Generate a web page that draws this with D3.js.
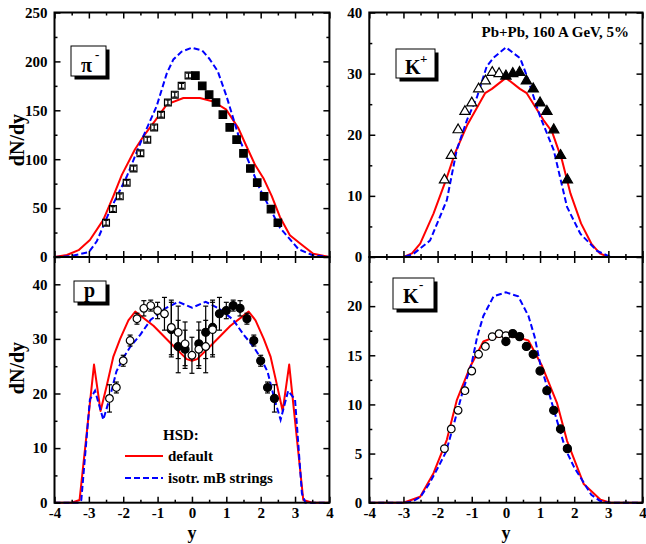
<!DOCTYPE html>
<html><head><meta charset="utf-8">
<script src="https://cdn.jsdelivr.net/npm/d3@7"></script>
<style>
body{margin:0;background:#fff}
text{font-family:"Liberation Serif","Times New Roman",serif;font-weight:bold;fill:#000}
</style>
</head><body>
<svg id="c" width="646" height="544"></svg>
<script>
// ---------- data ----------
const xMajor = [-4,-3,-2,-1,0,1,2,3,4];
const xMinor = [-3.5,-2.5,-1.5,-0.5,0.5,1.5,2.5,3.5];

// pi-
const piRedY = [-4,-3.64,-3.3,-2.97,-2.58,-2.29,-2.04,-1.66,-1.42,-1.08,-0.73,-0.25,0.23,0.62,1.0,1.35,1.59,1.84,2.08,2.32,2.56,2.85,3.14,3.53,4];
const piRedV = [0,2,7,17.4,38,62,84,110,123,139,156,162.6,162.6,159,150.6,131.8,113,94,80.6,62.5,41,22.2,14,3.4,0];
const piBlueY = [-4,-3.5,-3,-2.77,-2.38,-1.9,-1.46,-1.03,-0.73,-0.54,-0.3,0,0.3,0.5,0.75,1.0,1.39,1.97,2.56,3.1,3.5,4];
const piBlueV = [0,1,5,16,48,82,120,154,188,202,210,214,211,203,190,165,120,70,30,8,2,0];
const piOpenY = [-2.5,-2.3,-2.1,-1.9,-1.7,-1.5,-1.3,-1.1,-0.9,-0.7,-0.5,-0.3,-0.1];
const piOpenV = [35,49,62,76,90.5,106,120,132.5,145.5,158,166,175,185.5];
const piOpenE = [2.5,2.5,2.5,2.5,2.5,2.5,2.5,2.5,2.5,2.5,2.5,2.5,2.5];
const piFillY = [0.1,0.3,0.5,0.7,0.9,1.1,1.3,1.5,1.7,1.9,2.1,2.3,2.5];
const piFillV = [185.5,175,166,158,145.5,132.5,120,106,90.5,76,62,49,35];
const piTicks = [0,50,100,150,200,250];
const piMinor = [25,75,125,175,225];

// K+
const kpRedY = [-4,-3,-2.75,-2.51,-2.12,-1.73,-1.49,-1.14,-0.61,-0.41,0,0.41,0.61,1.1,1.35,1.64,1.89,2.2,2.5,2.75,3,4];
const kpRedV = [0,0,0.6,2.2,7.1,13,17,21.5,26.8,27.5,29.3,27.5,26.8,22.4,20.5,15.9,10.4,5.5,2.2,0.6,0,0];
const kpBlueY = [-4,-3,-2.71,-2.22,-1.73,-1.44,-1.14,-0.85,-0.56,-0.36,0,0.42,0.62,1.0,1.4,1.79,2.18,2.67,3.06,4];
const kpBlueV = [0,0,0.5,2.7,9.3,17.5,22.4,26.1,31.2,32.6,34.3,32.5,29.5,23,17.5,8.2,3.8,1,0,0];
const kpOpenY = [-1.8,-1.6,-1.4,-1.2,-1.0,-0.8,-0.6,-0.4,-0.2];
const kpOpenV = [12.6,16.6,20.8,23.8,25.2,27.5,28.8,30.2,30];
const kpFillY = [0,0.2,0.4,0.6,0.8,1.0,1.2,1.4,1.6,1.8];
const kpFillV = [29.6,30,30.2,28.8,27.5,25.2,23.8,20.8,16.6,12.6];
const kpTicks = [0,10,20,30,40];
const kpMinor = [5,15,25,35];

// p
const pRedY = [-4,-3.5,-3.27,-2.85,-2.66,-2.48,-2.29,-2.09,-1.85,-1.65,-1.12,-0.54,-0.15,0,0.15,0.54,1.12,1.65,1.85,2.09,2.29,2.48,2.64,2.83,3.24,3.5,4];
const pRedV = [0,0,0.5,25.3,16.8,21.4,26.7,30,33.4,35,32.4,28.7,26.3,26,26.3,28.7,32.4,35,33.4,30,26.7,21.4,16.8,25.3,0.5,0,0];
const pBlueY = [-4,-3.3,-3.22,-2.97,-2.82,-2.58,-2.4,-2.2,-2.0,-1.8,-1.5,-1.2,-0.8,-0.4,0,0.4,0.8,1.2,1.5,1.8,2.0,2.2,2.4,2.58,2.8,3.0,3.2,3.3,4];
const pBlueV = [0,0,0.5,18.9,20.5,15.2,19,24,26.5,28.5,30.8,33.5,35.5,36.8,35.7,36.8,35.5,33.5,30.8,28.5,26.5,24,19,15.2,20.5,18.9,1.7,0,0];
const pOpenY = [-2.4,-2.2,-2.0,-1.8,-1.6,-1.4,-1.2,-1.0,-0.8,-0.6,-0.4,-0.2,0,0.2,0.4,0.6];
const pOpenV = [19.1,21.1,26,29.7,33.7,35.6,36.1,35.2,34.6,32.1,31.2,29.1,27,28.1,28.6,31.7];
const pOpenE = [2.5,1,1,1,1,1.4,1,1.5,3,5,4.8,4,3.3,3.5,4.8,5];
const pFillY = [-0.6,-0.4,-0.2,0.2,0.4,0.6,0.8,1.0,1.2,1.4,1.6,1.8,2.0,2.2,2.4];
const pFillV = [31.7,28.6,28.1,29.1,31.2,32.1,34.6,35.2,36.1,35.6,33.7,29.7,26,21.1,19.1];
const pFillE = [5,4.8,3.5,4,4.8,5,3,1.5,1,1.4,1,1,1,1,2.5];
const pTicks = [0,10,20,30,40];
const pMinor = [5,15,25,35];

// K-
const kmRedY = [-4,-3,-2.51,-2.12,-1.73,-1.44,-1.05,-0.66,-0.37,0,0.37,0.66,1.06,1.5,1.79,2.28,2.77,3.06,4];
const kmRedV = [0,0,0.6,3,6.4,10.4,13.8,16.4,16.8,17.0,16.8,16.5,13.9,10.1,6.3,1.9,0.3,0,0];
const kmBlueY = [-4,-3,-2.75,-2.5,-2.25,-2,-1.75,-1.5,-1.25,-1,-0.84,-0.66,-0.36,0,0.36,0.66,0.84,1,1.25,1.5,1.75,2,2.25,2.5,2.75,3,4];
const kmBlueV = [0,0,0.1,0.6,1.9,3.5,5.2,8.3,11.5,14.2,16.9,19,21,21.4,21,19,16.9,14.2,11.3,8.3,5.4,3.6,2.2,0.8,0.2,0,0];
const kmOpenY = [-1.8,-1.6,-1.4,-1.2,-1.0,-0.8,-0.6,-0.4,-0.2,0];
const kmOpenV = [5.5,7.5,9.4,11.4,13.4,15.1,15.9,16.9,17.2,17.0];
const kmFillY = [0,0.2,0.4,0.6,0.8,1.0,1.2,1.4,1.6,1.8];
const kmFillV = [16.4,17.2,16.9,15.9,15.1,13.4,11.4,9.4,7.5,5.5];
const kmTicks = [0,5,10,15,20];
const kmMinor = [2.5,7.5,12.5,17.5,22.5];

const legendLabels = ["default", "isotr. mB strings"];
const titleText = "Pb+Pb, 160 A GeV, 5%";

// ---------- drawing ----------
const svg = d3.select("#c");
const RED = "#ff0000", BLUE = "#0000ff";

function zip(a, b){ return a.map((v,i)=>[v,b[i]]); }

function panel(o){
  const x = d3.scaleLinear().domain([-4,4]).range([o.l,o.r]);
  const y = d3.scaleLinear().domain(o.yd).range([o.b,o.t]);
  const g = svg.append("g");
  const line = d3.line().x(d=>x(d[0])).y(d=>y(d[1]));

  g.append("path").attr("d", line(zip(o.redY,o.redV))).attr("fill","none")
    .attr("stroke",RED).attr("stroke-width",2).attr("stroke-linejoin","round");
  g.append("path").attr("d", line(zip(o.blueY,o.blueV))).attr("fill","none")
    .attr("stroke",BLUE).attr("stroke-width",2).attr("stroke-dasharray","6,3");

  const style = s => { s.select(".domain").remove();
    s.selectAll(".tick line").attr("stroke","#000").attr("stroke-width",1.5);
    s.selectAll("text").attr("font-family",null).attr("font-size",15).attr("fill","#000");
    s.attr("font-family",null).attr("font-size",null); };
  const fmt = d => String(d);
  g.append("g").attr("transform",`translate(0,${o.b})`)
    .call(d3.axisBottom(x).tickValues(xMajor).tickSizeInner(-6).tickSizeOuter(0).tickPadding(5).tickFormat(o.xl?fmt:"")).call(style);
  g.append("g").attr("transform",`translate(0,${o.b})`)
    .call(d3.axisBottom(x).tickValues(xMinor).tickSizeInner(-3).tickSizeOuter(0).tickFormat("")).call(style);
  g.append("g").attr("transform",`translate(0,${o.t})`)
    .call(d3.axisTop(x).tickValues(xMajor).tickSizeInner(-6).tickSizeOuter(0).tickFormat("")).call(style);
  g.append("g").attr("transform",`translate(0,${o.t})`)
    .call(d3.axisTop(x).tickValues(xMinor).tickSizeInner(-3).tickSizeOuter(0).tickFormat("")).call(style);
  g.append("g").attr("transform",`translate(${o.l},0)`)
    .call(d3.axisLeft(y).tickValues(o.yt).tickSizeInner(-6).tickSizeOuter(0).tickPadding(7).tickFormat(fmt)).call(style);
  g.append("g").attr("transform",`translate(${o.l},0)`)
    .call(d3.axisLeft(y).tickValues(o.ym).tickSizeInner(-3).tickSizeOuter(0).tickFormat("")).call(style);
  g.append("g").attr("transform",`translate(${o.r},0)`)
    .call(d3.axisRight(y).tickValues(o.yt).tickSizeInner(-6).tickSizeOuter(0).tickFormat("")).call(style);
  g.append("g").attr("transform",`translate(${o.r},0)`)
    .call(d3.axisRight(y).tickValues(o.ym).tickSizeInner(-3).tickSizeOuter(0).tickFormat("")).call(style);

  g.append("rect").attr("x",o.l).attr("y",o.t).attr("width",o.r-o.l).attr("height",o.b-o.t)
    .attr("fill","none").attr("stroke","#000").attr("stroke-width",2);

  return {g,x,y};
}

function errbars(P, ys, vs, es){
  const d = zip(ys,vs).map((p,i)=>[p[0],p[1],es[i]]);
  const eg = P.g.append("g").attr("stroke","#000").attr("stroke-width",1.2);
  d.forEach(p=>{
    const cx = P.x(p[0]), y1 = P.y(p[1]-p[2]), y2 = P.y(p[1]+p[2]);
    eg.append("line").attr("x1",cx).attr("x2",cx).attr("y1",y1).attr("y2",y2);
    eg.append("line").attr("x1",cx-2.5).attr("x2",cx+2.5).attr("y1",y1).attr("y2",y1);
    eg.append("line").attr("x1",cx-2.5).attr("x2",cx+2.5).attr("y1",y2).attr("y2",y2);
  });
}

function markers(P, ys, vs, shape, filled, size){
  const sym = d3.symbol().type(shape).size(size);
  P.g.append("g").selectAll("path").data(zip(ys,vs)).join("path")
    .attr("transform",d=>`translate(${P.x(d[0])},${P.y(d[1])})`)
    .attr("d",sym).attr("fill",filled?"#000":"#fff").attr("stroke","#000").attr("stroke-width",1.2);
}

function labelBox(x0,y0,w,h,main,sup,mx,my,sx,sy){
  svg.append("rect").attr("x",x0+3.5).attr("y",y0+3.5).attr("width",w).attr("height",h).attr("fill","#000");
  svg.append("rect").attr("x",x0).attr("y",y0).attr("width",w).attr("height",h).attr("fill","#fff")
    .attr("stroke","#000").attr("stroke-width",1);
  svg.append("text").attr("x",mx).attr("y",my).attr("font-size",20).text(main);
  if(sup) svg.append("text").attr("x",sx).attr("y",sy).attr("font-size",13).text(sup);
}

const L0 = 54.5, L1 = 329.4, R0 = 369.3, R1 = 642.5;
const T0 = 12.5, MID = 257, B0 = 502.7;

const P1 = panel({l:L0,r:L1,t:T0,b:MID,yd:[0,250],yt:piTicks,ym:piMinor,xl:false,
  redY:piRedY,redV:piRedV,blueY:piBlueY,blueV:piBlueV});
markers(P1, piOpenY, piOpenV, d3.symbolSquare, false, 46);
errbars(P1, piOpenY, piOpenV, piOpenE);
markers(P1, piFillY, piFillV, d3.symbolSquare, true, 56);

const P2 = panel({l:R0,r:R1,t:T0,b:MID,yd:[0,40],yt:kpTicks,ym:kpMinor,xl:false,
  redY:kpRedY,redV:kpRedV,blueY:kpBlueY,blueV:kpBlueV});
markers(P2, kpOpenY, kpOpenV, d3.symbolTriangle, false, 44);
markers(P2, kpFillY, kpFillV, d3.symbolTriangle, true, 46);

const P3 = panel({l:L0,r:L1,t:MID,b:B0,yd:[0,45],yt:pTicks,ym:pMinor,xl:true,
  redY:pRedY,redV:pRedV,blueY:pBlueY,blueV:pBlueV});
errbars(P3, pFillY, pFillV, pFillE);
markers(P3, pFillY, pFillV, d3.symbolCircle, true, 50);
errbars(P3, pOpenY, pOpenV, pOpenE);
markers(P3, pOpenY, pOpenV, d3.symbolCircle, false, 46);

const P4 = panel({l:R0,r:R1,t:MID,b:B0,yd:[0,25],yt:kmTicks,ym:kmMinor,xl:true,
  redY:kmRedY,redV:kmRedV,blueY:kmBlueY,blueV:kmBlueV});
markers(P4, kmOpenY, kmOpenV, d3.symbolCircle, false, 46);
markers(P4, kmFillY, kmFillV, d3.symbolCircle, true, 52);

labelBox(71,46,35,30,"π","-",81,72,95,59);
labelBox(396,49,39,29,"K","+",405,74,420,63);
labelBox(74,281,32,21,"p",null,84,297,0,0);
labelBox(393,278,41,31,"K","-",403,303,419,289);

svg.append("text").attr("x",629).attr("y",36.5).attr("text-anchor","end").attr("font-size",15).text(titleText);

svg.append("text").attr("x",163).attr("y",440).attr("font-size",15).text("HSD:");
svg.append("line").attr("x1",125).attr("x2",163).attr("y1",456).attr("y2",456).attr("stroke",RED).attr("stroke-width",2);
svg.append("line").attr("x1",125).attr("x2",163).attr("y1",478).attr("y2",478).attr("stroke",BLUE).attr("stroke-width",2).attr("stroke-dasharray","6,3");
svg.append("text").attr("x",168).attr("y",461).attr("font-size",15).text(legendLabels[0]);
svg.append("text").attr("x",168).attr("y",483).attr("font-size",15).text(legendLabels[1]);

svg.append("text").attr("transform","translate(24,140) rotate(-90)").attr("text-anchor","middle").attr("font-size",20).text("dN/dy");
svg.append("text").attr("transform","translate(24,368) rotate(-90)").attr("text-anchor","middle").attr("font-size",20).text("dN/dy");
svg.append("text").attr("x",(L0+L1)/2).attr("y",539).attr("text-anchor","middle").attr("font-size",18).text("y");
svg.append("text").attr("x",(R0+R1)/2).attr("y",539).attr("text-anchor","middle").attr("font-size",18).text("y");
</script>
</body></html>
